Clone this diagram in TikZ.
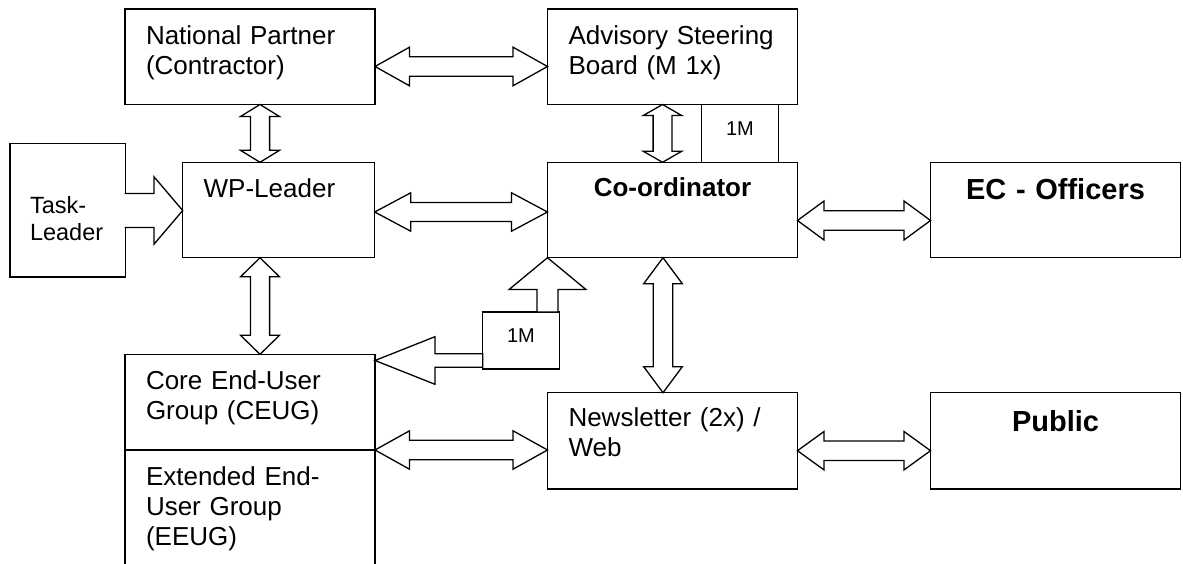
\documentclass[tikz,border=0pt]{standalone}
\usepackage{fontspec}
\setmainfont{Liberation Sans}
\usepackage{tikz}
\usetikzlibrary{positioning,calc}

\tikzset{
  Unit/.style={draw, line width=1.3pt, outer sep=0pt, anchor=north west, inner ysep=0pt, inner xsep=21pt,
    align=left, text height=35.5pt, font=\fontsize{26}{29.9}\selectfont},
  Hub/.style={Unit, inner xsep=0pt, align=center, font=\fontsize{26}{29.9}\selectfont\bfseries},
  Outer/.style={Hub, font=\fontsize{29}{33}\selectfont\bfseries},
  Meeting/.style={draw, line width=1.3pt, outer sep=0pt, anchor=north west, inner sep=0pt,
    text depth=10pt, font=\fontsize{20}{23}\selectfont},
  FlowArrow/.style={draw, fill=white, line width=1.3pt, line join=miter},
}

% block arrows: tip/tip (or tip/tail), head length, shaft half width, head half width
\newcommand{\FlowBiH}[5]{%
  \draw[FlowArrow] (#1) -- ++(#3,-#5) -- ++(0,#5-#4) -- ($(#2)+(-#3,-#4)$) -- ++(0,#4-#5)
    -- (#2) -- ++(-#3,#5) -- ++(0,#4-#5) -- ($(#1)+(#3,#4)$) -- ++(0,#5-#4) -- cycle;}
\newcommand{\FlowBiV}[5]{%
  \draw[FlowArrow] (#1) -- ++(#5,#3) -- ++(#4-#5,0) -- ($(#2)+(#4,-#3)$) -- ++(#5-#4,0)
    -- (#2) -- ++(-#5,-#3) -- ++(#5-#4,0) -- ($(#1)+(-#4,#3)$) -- ++(#4-#5,0) -- cycle;}
\newcommand{\FlowLeft}[5]{%
  \draw[FlowArrow] (#1) -- ++(#3,-#5) -- ++(0,#5-#4) -- ($(#2)+(0,-#4)$) -- ($(#2)+(0,#4)$)
    -- ($(#1)+(#3,#4)$) -- ++(0,#5-#4) -- cycle;}
\newcommand{\FlowUp}[5]{%
  \draw[FlowArrow] (#1) -- ++(#5,#3) -- ++(#4-#5,0) -- ($(#2)+(#4,0)$) -- ($(#2)+(-#4,0)$)
    -- ($(#1)+(-#4,#3)$) -- ++(#4-#5,0) -- cycle;}
\newcommand{\FlowIn}[5]{%
  \draw[FlowArrow] ($(#1)+(-1,-#4)$) -- ($(#2)+(-#3,-#4)$) -- ++(0,#4-#5) -- (#2)
    -- ++(-#3,#5) -- ++(0,#4-#5) -- ($(#1)+(-1,#4)$);}

\begin{document}
\begin{tikzpicture}[x=1pt, y=-1pt]
	\clip (0,0) rectangle (1183,564);
	\node[Unit, text width=208pt, text depth=60pt] (np) at (125,9) {National Partner\\(Contractor)};
	\node[Unit, text width=208pt, text depth=60pt] (as) at (547.5,9) {Advisory Steering\\Board (M 1x)};
	\node[Meeting, minimum width=76.6pt, minimum height=57.6pt] (mtop) at (701.7,104.7) {1M};
	\node[Unit, inner xsep=20pt, text width=75.7pt, text height=70pt, text depth=63.7pt,
	      font=\fontsize{23.5}{27.4}\selectfont] (task) at (10,143.3) {Task-\\Leader};
	\node[Unit, text width=150pt, text depth=60pt] (wp) at (182.7,162.3) {WP-Leader};
	\node[Hub, text width=250pt, text height=34.4pt, text depth=61pt] (coord) at (547.5,162.3) {Co-ordinator};
	\node[Outer, text width=250pt, text height=37.7pt, text depth=57.7pt] (ec) at (930.5,162.3) {EC - Officers};
	\node[Meeting, minimum width=76.6pt, minimum height=57pt] (mlow) at (482.7,312) {1M};
	\node[Unit, text width=208pt, text depth=60.2pt] (ceug) at (125,354.3) {Core End-User\\Group (CEUG)};
	\node[Unit, text width=208pt, text height=35.7pt, text depth=100pt] (eeug) at (125,450) {Extended End-\\User Group\\(EEUG)};
	\node[Unit, text width=208pt, text height=34pt, text depth=62.3pt] (news) at (547.5,392.7) {Newsletter (2x) /\\Web};
	\node[Outer, text width=250pt, text height=39pt, text depth=57.3pt] (pub) at (930.5,392.7) {Public};
	\FlowBiH{np.east |- 0,66.5}{as.west |- 0,66.5}{34.5}{9.7}{19.3}
	\FlowBiV{np.south -| 260,0}{wp.north -| 260,0}{12}{9.6}{19.5}
	\FlowBiV{as.south -| 662.5,0}{coord.north -| 662.5,0}{11}{9.4}{19.2}
	\FlowIn{task.east |- 0,210.5}{wp.west |- 0,210.5}{28.7}{17}{33.7}
	\FlowBiH{wp.east |- 0,212}{coord.west |- 0,212}{36}{9.5}{19.2}
	\FlowBiH{coord.east |- 0,220.5}{ec.west |- 0,220.5}{26.5}{9.8}{19.5}
	\FlowBiV{wp.south -| 260,0}{ceug.north -| 260,0}{19}{9.6}{19.5}
	\FlowBiV{coord.south -| 663,0}{news.north -| 663,0}{26}{9.7}{19.3}
	\FlowUp{coord.south west}{mlow.north -| coord.west}{31.7}{10.5}{38.3}
	\FlowLeft{ceug.east |- 0,360.5}{mlow.west |- 0,360.5}{60}{6.7}{23.8}
	\FlowBiH{eeug.north east}{news.west |- eeug.north east}{34.5}{9.7}{19.2}
	\FlowBiH{news.east |- 0,450.7}{pub.west |- 0,450.7}{26.5}{9.7}{19.2}
\end{tikzpicture}
\end{document}
